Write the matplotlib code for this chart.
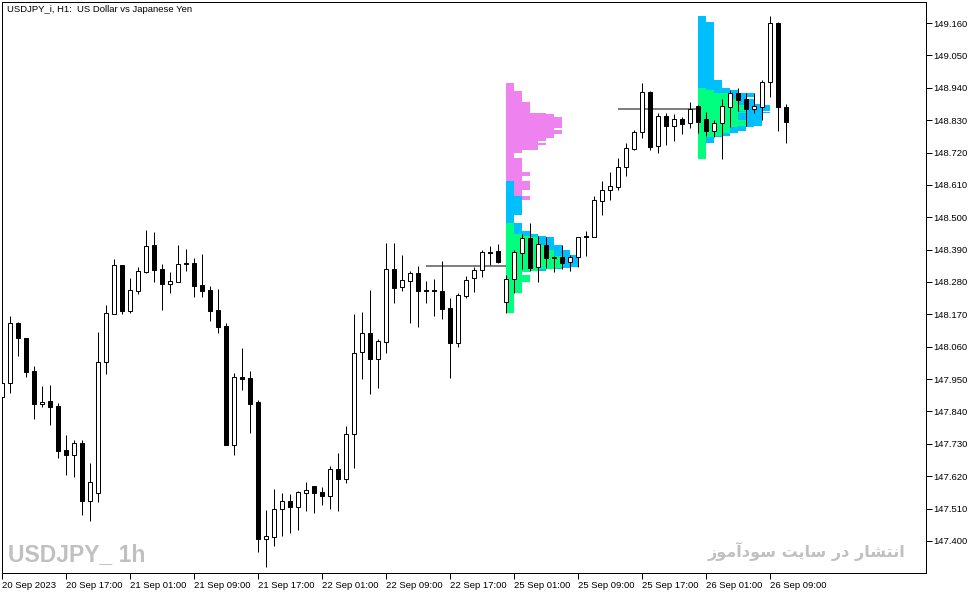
import numpy as np
import pandas as pd
import matplotlib
matplotlib.use('Agg')
import matplotlib.pyplot as plt

# hourly bars, USDJPY_i H1, 20 Sep 09:00 .. 26 Sep 11:00 (weekend skipped)
dayStarts = ['2023-09-20 09:00', '2023-09-21 00:00', '2023-09-22 00:00',
             '2023-09-25 00:00', '2023-09-26 00:00']
dayBars = [15, 24, 24, 24, 12]

opens = [147.889, 147.937, 148.141, 148.090, 147.978, 147.865, 147.876, 147.859, 147.709, 147.692,
         147.733, 147.536, 147.563, 148.008, 148.171, 148.338, 148.181, 148.249, 148.314, 148.406,
         148.324, 148.273, 148.280, 148.345, 148.345, 148.270, 148.253, 148.185, 148.130, 147.726,
         147.957, 147.954, 147.872, 147.407, 147.414, 147.509, 147.536, 147.515, 147.563, 147.587,
         147.566, 147.553, 147.645, 147.611, 147.764, 148.042, 148.107, 148.018, 148.076, 148.324,
         148.263, 148.283, 148.311, 148.253, 148.253, 148.249, 148.192, 148.073, 148.232, 148.294,
         148.321, 148.382, 148.385, 148.212, 148.290, 148.379, 148.430, 148.331, 148.406, 148.365,
         148.365, 148.348, 148.365, 148.436, 148.433, 148.555, 148.593, 148.603, 148.671, 148.732,
         148.790, 148.926, 148.742, 148.844, 148.810, 148.834, 148.820, 148.878, 148.834, 148.793,
         148.820, 148.875, 148.922, 148.902, 148.868, 148.875, 148.960, 149.160, 148.875]
highs = [147.940, 148.164, 148.144, 148.090, 147.995, 147.927, 147.930, 147.869, 147.760, 147.743,
         147.743, 147.665, 148.110, 148.202, 148.358, 148.338, 148.294, 148.331, 148.457, 148.450,
         148.341, 148.314, 148.406, 148.392, 148.362, 148.375, 148.266, 148.256, 148.141, 147.971,
         148.056, 147.978, 147.879, 147.505, 147.577, 147.563, 147.560, 147.570, 147.600, 147.587,
         147.583, 147.655, 147.699, 147.791, 148.171, 148.178, 148.253, 148.086, 148.413, 148.413,
         148.372, 148.317, 148.334, 148.283, 148.290, 148.351, 148.226, 148.243, 148.300, 148.331,
         148.389, 148.402, 148.409, 148.304, 148.389, 148.443, 148.480, 148.436, 148.433, 148.368,
         148.406, 148.372, 148.433, 148.453, 148.572, 148.623, 148.654, 148.701, 148.752, 148.796,
         148.956, 148.929, 148.854, 148.854, 148.851, 148.841, 148.892, 148.881, 148.858, 148.830,
         148.902, 148.932, 148.939, 148.922, 148.922, 148.966, 149.184, 149.163, 148.885]
lows = [147.885, 147.903, 148.029, 147.957, 147.814, 147.855, 147.794, 147.682, 147.624, 147.617,
        147.488, 147.468, 147.532, 147.967, 148.171, 148.171, 148.175, 148.239, 148.311, 148.280,
        148.185, 148.243, 148.280, 148.317, 148.229, 148.229, 148.147, 148.107, 147.726, 147.692,
        147.913, 147.767, 147.363, 147.312, 147.383, 147.417, 147.427, 147.437, 147.502, 147.495,
        147.522, 147.509, 147.502, 147.597, 147.648, 147.950, 147.899, 147.920, 148.039, 148.209,
        148.249, 148.141, 148.127, 148.209, 148.164, 148.154, 147.954, 148.059, 148.226, 148.246,
        148.297, 148.338, 148.345, 148.175, 148.243, 148.324, 148.317, 148.280, 148.328, 148.314,
        148.324, 148.317, 148.331, 148.368, 148.433, 148.508, 148.559, 148.593, 148.640, 148.729,
        148.769, 148.729, 148.718, 148.746, 148.759, 148.783, 148.803, 148.786, 148.776, 148.773,
        148.698, 148.807, 148.861, 148.810, 148.854, 148.830, 148.909, 148.793, 148.752]
closes = [147.937, 148.141, 148.090, 147.974, 147.865, 147.872, 147.855, 147.706, 147.692, 147.733,
          147.536, 147.600, 148.008, 148.175, 148.338, 148.181, 148.253, 148.317, 148.402, 148.321,
          148.273, 148.283, 148.341, 148.341, 148.266, 148.249, 148.181, 148.127, 147.726, 147.957,
          147.950, 147.865, 147.407, 147.417, 147.509, 147.536, 147.515, 147.566, 147.573, 147.563,
          147.553, 147.645, 147.611, 147.764, 148.039, 148.107, 148.018, 148.080, 148.324, 148.260,
          148.287, 148.311, 148.249, 148.249, 148.249, 148.188, 148.073, 148.236, 148.287, 148.321,
          148.382, 148.379, 148.348, 148.290, 148.382, 148.430, 148.328, 148.409, 148.362, 148.362,
          148.345, 148.365, 148.433, 148.433, 148.559, 148.593, 148.606, 148.671, 148.735, 148.790,
          148.926, 148.739, 148.844, 148.810, 148.834, 148.817, 148.868, 148.824, 148.793, 148.820,
          148.878, 148.922, 148.898, 148.868, 148.878, 148.960, 149.160, 148.875, 148.824]

# market profile sessions and the grey reference level drawn before each one
profileDays = ['2023-09-25', '2023-09-26']
refLevels = [148.334, 148.868]
profileColors = ['#00FF7F', '#00BFFF', '#EE82EE']   # hours 0-7, 8-12, 13-23
yTicks = [147.400, 147.510, 147.620, 147.730, 147.840, 147.950, 148.060, 148.170, 148.280,
          148.390, 148.500, 148.610, 148.720, 148.830, 148.940, 149.050, 149.160]

title = 'USDJPY_i, H1:  US Dollar vs Japanese Yen'
watermarkLeft = 'USDJPY_ 1h'
watermarkRight = 'انتشار در سایت سودآموز'


# minimal Persian shaping (presentation forms, visual order) for the watermark
FORMS = {
    'ا': ('\uFE8D', '\uFE8E', None, None),
    'آ': ('\uFE81', '\uFE82', None, None),
    'د': ('\uFEA9', '\uFEAA', None, None),
    'ر': ('\uFEAD', '\uFEAE', None, None),
    'ز': ('\uFEAF', '\uFEB0', None, None),
    'و': ('\uFEED', '\uFEEE', None, None),
    'ن': ('\uFEE5', '\uFEE6', '\uFEE7', '\uFEE8'),
    'ت': ('\uFE95', '\uFE96', '\uFE97', '\uFE98'),
    'ش': ('\uFEB5', '\uFEB6', '\uFEB7', '\uFEB8'),
    'س': ('\uFEB1', '\uFEB2', '\uFEB3', '\uFEB4'),
    'ی': ('\uFBFC', '\uFBFD', '\uFEF3', '\uFEF4'),
    'م': ('\uFEE1', '\uFEE2', '\uFEE3', '\uFEE4'),
}


def shapePersian(text):
    out = []
    for i, ch in enumerate(text):
        if ch not in FORMS:
            out.append(ch)
            continue
        prev = text[i - 1] if i > 0 else ' '
        nxt = text[i + 1] if i + 1 < len(text) else ' '
        joinPrev = prev in FORMS and FORMS[prev][2] is not None
        joinNext = FORMS[ch][2] is not None and nxt in FORMS
        iso, fin, ini, med = FORMS[ch]
        if joinPrev and joinNext:
            out.append(med)
        elif joinPrev:
            out.append(fin)
        elif joinNext:
            out.append(ini)
        else:
            out.append(iso)
    return ''.join(reversed(out))


def hourGroup(h):
    if h < 8:
        return 0
    if h < 13:
        return 1
    return 2


times = pd.DatetimeIndex(np.concatenate(
    [pd.date_range(s, periods=n, freq='h').values for s, n in zip(dayStarts, dayBars)]))
o = np.array(opens); h = np.array(highs); l = np.array(lows); c = np.array(closes)
x = np.arange(len(o))

W, H = 979, 594
fig = plt.figure(figsize=(W / 100, H / 100), dpi=100)
ax = fig.add_axes([2 / W, 21 / H, 924 / W, 571 / H])
px = 0.72

# profiles
tick = 0.001
for day, level in zip(profileDays, refLevels):
    idx = np.where(times.strftime('%Y-%m-%d') == day)[0]
    start = idx[0]
    grp = np.array([hourGroup(t.hour) for t in times[idx]])
    lv = np.round(np.arange(l[idx].min(), h[idx].max() + tick / 2, tick), 3)
    cover = (l[idx][None, :] <= lv[:, None] + 1e-9) & (h[idx][None, :] >= lv[:, None] - 1e-9)
    counts = np.stack([(cover & (grp == g)).sum(axis=1) for g in range(3)], axis=1)
    brk = np.where(np.any(np.diff(counts, axis=0) != 0, axis=1))[0] + 1
    s0 = np.r_[0, brk]
    s1 = np.r_[brk, len(lv)]
    bottoms = lv[s0] - tick / 2
    heights = (s1 - s0) * tick
    left = np.full(len(s0), float(start))
    for g in range(3):
        wdt = counts[s0, g]
        ax.barh(bottoms, wdt, left=left, height=heights, align='edge',
                color=profileColors[g], linewidth=0, zorder=1)
        left = left + wdt
    ax.hlines(level, start - 10, start, color='#808080', linewidth=2 * px, zorder=2)

# candles
up = c > o
ax.vlines(x, l, h, color='black', linewidth=px, zorder=3)
ax.bar(x, np.abs(c - o), bottom=np.minimum(o, c), width=0.52,
       color=np.where(up, 'white', 'black'), edgecolor='black', linewidth=px, zorder=4)

ax.set_xlim(0, 115.5)
ax.set_ylim(147.2912, 149.2314)

tickFont = {'family': 'Liberation Sans', 'size': 6.8}
xt = x[::8]
xl = [times[0].strftime('%d %b %Y')] + [t.strftime('%d %b %H:%M') for t in times[xt[1:]]]
ax.set_xticks(xt)
ax.set_xticklabels(xl, ha='left', fontdict=tickFont)
ax.set_yticks(yTicks)
ax.set_yticklabels([f'{v:.3f}' for v in yTicks], fontdict=tickFont)
ax.yaxis.tick_right()
ax.tick_params(axis='x', direction='out', length=4, width=px, pad=1.5)
ax.tick_params(axis='y', direction='out', length=4, width=px, pad=1.5)
for sp in ax.spines.values():
    sp.set_linewidth(px)
    sp.set_color('black')

fig.text(7 / W, 1 - 10 / H, title, ha='left', va='center',
         family='Liberation Sans', size=6.8, color='black')
fig.text(8 / W, 1 - 555 / H, watermarkLeft, ha='left', va='center',
         family='Liberation Sans', weight='bold', size=16.5, color='#c0c0c0')
fig.text(905 / W, 1 - 551 / H, shapePersian(watermarkRight), ha='right', va='center',
         family='DejaVu Sans', weight='bold', size=11.5, color='#c0c0c0')

fig.savefig('out.png', dpi=100)
